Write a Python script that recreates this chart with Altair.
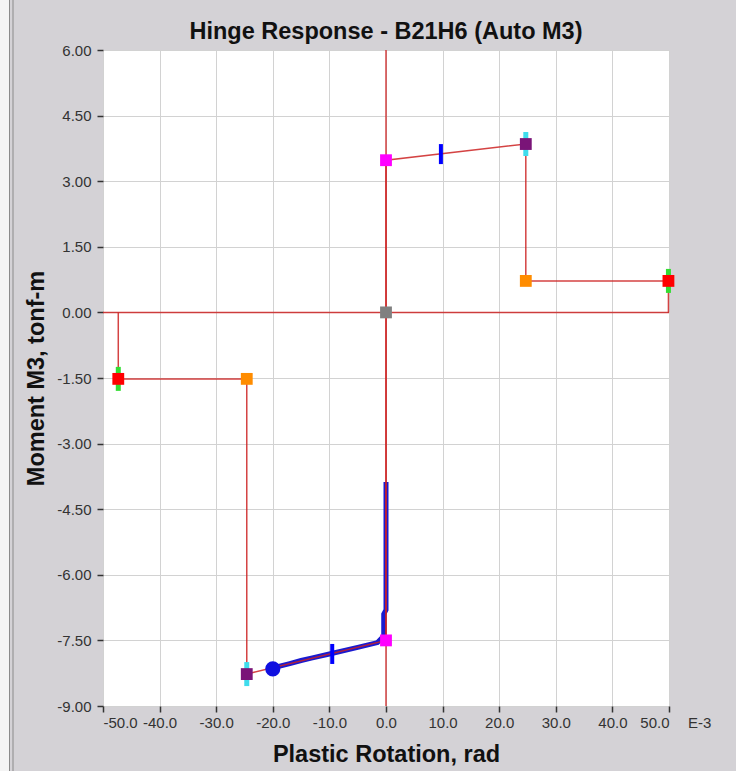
import altair as alt
import pandas as pd

# ---- data ----
backbone_x = [-47.3, -47.3, -24.6, -24.6, 0.0, 0.0, 0.0, 24.7, 24.7, 49.9, 49.9]
backbone_y = [0.0, -1.52, -1.52, -8.27, -7.50, 0.0, 3.48, 3.85, 0.72, 0.72, 0.0]

resp_x = [0.0, 0.0, -0.4, -0.4, -1.5, -5.0, -10.0, -13.0, -15.0, -17.0, -20.0]
resp_y = [-3.88, -6.80, -6.90, -7.40, -7.55, -7.66, -7.81, -7.90, -7.96, -8.03, -8.13]

pt_x = [0.0, 0.0, 0.0, 24.7, -24.6, 24.7, -24.6, 49.9, -47.3]
pt_y = [0.0, 3.48, -7.50, 3.85, -8.27, 0.72, -1.52, 0.72, -1.52]
pt_kind = ["A", "B", "B", "C", "C", "D", "D", "E", "E"]
kind_colors = {"A": "#808080", "B": "#ff00ff", "C": "#7a1478", "D": "#ff8c00", "E": "#ff0000"}

cyan_x = [24.7, -24.6]
cyan_y = [3.85, -8.27]
green_x = [49.9, -47.3]
green_y = [0.72, -1.52]
io_x = [9.7, -9.5]
io_y = [3.62, -7.81]

cur_x = [-20.0]
cur_y = [-8.15]

x_ticks = [-50, -40, -30, -20, -10, 0, 10, 20, 30, 40, 50]
y_ticks = [-9.0, -7.5, -6.0, -4.5, -3.0, -1.5, 0.0, 1.5, 3.0, 4.5, 6.0]

TITLE = "Hinge Response - B21H6 (Auto M3)"

W, H = 566, 656
RED = "#cc2222"
FONT = "Liberation Sans"

bb = pd.DataFrame({"x": backbone_x, "y": backbone_y, "i": list(range(len(backbone_x)))})
rs = pd.DataFrame({"x": resp_x, "y": resp_y, "i": list(range(len(resp_x)))})
pts = pd.DataFrame({"x": pt_x, "y": pt_y, "k": pt_kind})
cy = pd.DataFrame({"x": cyan_x, "y": cyan_y})
gr = pd.DataFrame({"x": green_x, "y": green_y})
io = pd.DataFrame({"x": io_x, "y": io_y})
cur = pd.DataFrame({"x": cur_x, "y": cur_y})

xs = alt.Scale(domain=[-50, 50], nice=False, zero=False)
ys = alt.Scale(domain=[-9, 6], nice=False, zero=False)

X = alt.X("x:Q", scale=xs, axis=alt.Axis(
    values=x_ticks, title="Plastic Rotation, rad",
    labelExpr="(datum.value < 0 ? '-' : '') + format(abs(datum.value), '.1f')"))
Y = alt.Y("y:Q", scale=ys, axis=alt.Axis(
    values=y_ticks, title="Moment M3, tonf-m",
    labelExpr="(datum.value < 0 ? '-' : '') + format(abs(datum.value), '.2f')"))

base_axes = alt.Chart(pd.DataFrame({"x": [0.0], "y": [0.0]})).mark_point(opacity=0).encode(x=X, y=Y)

# left window frame decoration
frame_rect = alt.Chart(pd.DataFrame({"x": [0]})).mark_rect(color="#f4f4f4", clip=False).encode(
    x=alt.value(-103), x2=alt.value(-94), y=alt.value(-50), y2=alt.value(H + 65))
frame_l1 = alt.Chart(pd.DataFrame({"x": [0]})).mark_rule(color="#8a8a8a", strokeWidth=1, clip=False).encode(
    x=alt.value(-93.5), y=alt.value(-50), y2=alt.value(H + 65))
frame_l2 = alt.Chart(pd.DataFrame({"x": [0]})).mark_rule(color="#8a8a8a", strokeWidth=1, clip=False).encode(
    x=alt.value(-90), y=alt.value(-50), y2=alt.value(H + 65))

resp_line = alt.Chart(rs).mark_line(color="#1a1ad0", strokeWidth=5).encode(
    x=alt.X("x:Q", scale=xs), y=alt.Y("y:Q", scale=ys), order="i:Q")

vrule = alt.Chart(pd.DataFrame({"x": [0.0]})).mark_rule(color=RED, strokeWidth=1.5, opacity=0.85).encode(
    x=alt.X("x:Q", scale=xs), y=alt.value(0), y2=alt.value(H))
hrule = alt.Chart(pd.DataFrame({"y": [0.0]})).mark_rule(color=RED, strokeWidth=1.5, opacity=0.85).encode(
    y=alt.Y("y:Q", scale=ys), x=alt.value(0), x2=alt.value(W))

bb_line = alt.Chart(bb).mark_line(color=RED, strokeWidth=1.5, opacity=0.85).encode(
    x=alt.X("x:Q", scale=xs), y=alt.Y("y:Q", scale=ys), order="i:Q")

cyan_t = alt.Chart(cy).mark_tick(orient="vertical", color="#3fdcec", size=24, thickness=5, opacity=1).encode(
    x=alt.X("x:Q", scale=xs), y=alt.Y("y:Q", scale=ys))
green_t = alt.Chart(gr).mark_tick(orient="vertical", color="#33dd33", size=24, thickness=5, opacity=1).encode(
    x=alt.X("x:Q", scale=xs), y=alt.Y("y:Q", scale=ys))

squares = alt.Chart(pts).mark_square(size=140, opacity=1, filled=True).encode(
    x=alt.X("x:Q", scale=xs), y=alt.Y("y:Q", scale=ys),
    color=alt.Color("k:N", scale=alt.Scale(domain=list(kind_colors.keys()),
                                           range=list(kind_colors.values())), legend=None))

io_t = alt.Chart(io).mark_tick(orient="vertical", color="#0000ff", size=20, thickness=4, opacity=1).encode(
    x=alt.X("x:Q", scale=xs), y=alt.Y("y:Q", scale=ys))

cur_pt = alt.Chart(cur).mark_circle(size=230, color="#1010e0", opacity=1).encode(
    x=alt.X("x:Q", scale=xs), y=alt.Y("y:Q", scale=ys))

e3 = alt.Chart(pd.DataFrame({"x": [0]})).mark_text(
    text="E-3", font=FONT, fontSize=15, color="#333333", align="left", baseline="top").encode(
    x=alt.value(W + 19), y=alt.value(H + 10))

title_t = alt.Chart(pd.DataFrame({"x": [0]})).mark_text(
    text=TITLE, font=FONT, fontSize=23.5, fontWeight="bold", color="#111111",
    align="center", baseline="middle").encode(
    x=alt.value(W / 2), y=alt.value(-18))

chart = alt.layer(
    base_axes, frame_rect, frame_l1, frame_l2, resp_line, vrule, hrule, bb_line,
    cyan_t, green_t, squares, io_t, cur_pt, e3, title_t
).properties(
    width=W, height=H,
    autosize=alt.AutoSizeParams(type="none"),
    padding={"left": 103, "top": 50, "right": 67, "bottom": 65},
    background="#d4d2d6",
).configure_view(stroke=None, fill="white").configure_axis(
    grid=True, gridColor="#d2d2d2", gridWidth=1, domain=False,
    tickColor="#333333", tickWidth=1.5, tickSize=6,
    labelFont=FONT, labelFontSize=15, labelColor="#333333",
    titleFont=FONT, titleFontSize=23.5, titleFontWeight="bold", titleColor="#111111",
).configure_axisX(titlePadding=12, labelPadding=3).configure_axisY(titlePadding=8, labelPadding=6)

chart.save("out.html", embed_options={"renderer": "svg", "actions": False})
